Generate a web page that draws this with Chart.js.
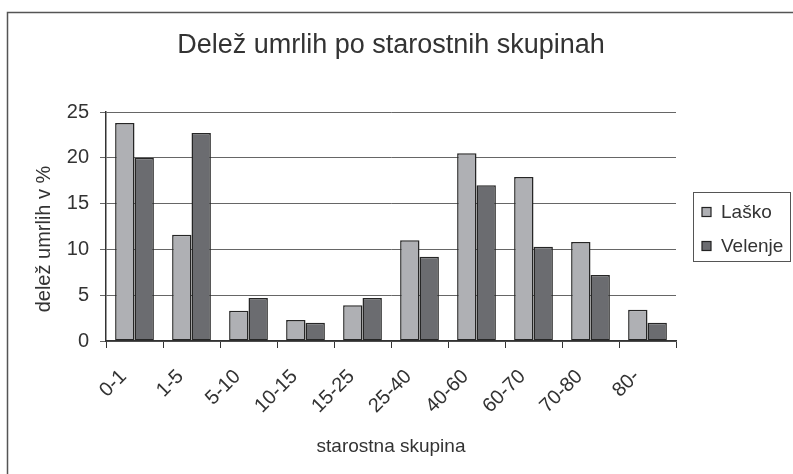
<!DOCTYPE html>
<html>
<head>
<meta charset="utf-8">
<script src="https://cdn.jsdelivr.net/npm/chart.js@4.4.0/dist/chart.umd.min.js"></script>
<style>
  html, body { margin: 0; padding: 0; background: #fff; }
</style>
</head>
<body>
<canvas id="chart" width="793" height="474"></canvas>
<script>
/* Delež umrlih po starostnih skupinah — Laško vs Velenje */

const categories = ['0-1', '1-5', '5-10', '10-15', '15-25', '25-40', '40-60', '60-70', '70-80', '80-'];
const lasko = [23.8, 11.6, 3.3, 2.3, 3.9, 11.0, 20.5, 17.9, 10.8, 3.4];
const velenje = [20.0, 22.7, 4.7, 2.0, 4.7, 9.2, 17.0, 10.3, 7.2, 2.0];
const yTicks = [0, 5, 10, 15, 20, 25];

const FONT = "'Liberation Sans', Arial, sans-serif";
const textColor = '#333';

// outer frame (only top and left edges are inside the picture)
const framePlugin = {
  id: 'frame',
  beforeDraw(chart) {
    const ctx = chart.ctx;
    ctx.save();
    ctx.fillStyle = '#fff';
    ctx.fillRect(0, 0, chart.width, chart.height);
    ctx.strokeStyle = '#555';
    ctx.lineWidth = 1.5;
    ctx.strokeRect(7.5, 12.5, chart.width + 50, chart.height + 50);
    ctx.restore();
  }
};

// chart title and y axis title
const textPlugin = {
  id: 'texts',
  afterDraw(chart) {
    const ctx = chart.ctx;
    const a = chart.chartArea;
    ctx.save();
    ctx.fillStyle = textColor;
    ctx.textAlign = 'center';
    ctx.textBaseline = 'middle';
    ctx.font = '27px ' + FONT;
    ctx.fillText('Delež umrlih po starostnih skupinah', (a.left + a.right) / 2, 46);
    ctx.font = '20px ' + FONT;
    ctx.translate(44, 239);
    ctx.rotate(-Math.PI / 2);
    ctx.fillText('delež umrlih v %', 0, 0);
    ctx.restore();
  }
};

const legendPlugin = {
  id: 'boxLegend',
  afterDraw(chart) {
    const ctx = chart.ctx;
    ctx.save();
    ctx.strokeStyle = '#555';
    ctx.lineWidth = 1;
    ctx.strokeRect(693.5, 192.5, 97, 69);
    ctx.font = '19px ' + FONT;
    ctx.textBaseline = 'middle';
    chart.data.datasets.forEach((ds, i) => {
      const cy = 212 + i * 34;
      ctx.fillStyle = ds.backgroundColor;
      ctx.fillRect(702, cy - 4.5, 9, 9);
      ctx.strokeStyle = '#222';
      ctx.lineWidth = 1.2;
      ctx.strokeRect(702, cy - 4.5, 9, 9);
      ctx.fillStyle = textColor;
      ctx.fillText(ds.label, 721, cy + 1);
    });
    ctx.restore();
  }
};

new Chart(document.getElementById('chart'), {
  type: 'bar',
  data: {
    labels: categories,
    datasets: [
      {
        label: 'Laško',
        data: lasko,
        backgroundColor: '#afb0b4',
        borderColor: '#262626',
        borderWidth: 1.5,
        borderSkipped: false,
        categoryPercentage: 0.68,
        barPercentage: 1
      },
      {
        label: 'Velenje',
        data: velenje,
        backgroundColor: '#6b6c70',
        borderColor: '#262626',
        borderWidth: 1.5,
        borderSkipped: false,
        categoryPercentage: 0.68,
        barPercentage: 1
      }
    ]
  },
  options: {
    responsive: false,
    animation: false,
    layout: { padding: { left: 0, right: 117, top: 112, bottom: 0 } },
    plugins: {
      legend: { display: false },
      title: { display: false },
      tooltip: { enabled: false }
    },
    scales: {
      x: {
        afterFit: (s) => { s.height = 133; },
        grid: {
          display: true,
          drawOnChartArea: false,
          drawTicks: true,
          tickLength: 7,
          color: '#333',
          offset: true
        },
        border: { display: true, color: '#333', width: 1.5 },
        ticks: {
          color: textColor,
          font: { family: FONT, size: 20 },
          minRotation: 45,
          maxRotation: 45,
          padding: 17,
          labelOffset: -11
        },
        title: {
          display: true,
          text: 'starostna skupina',
          color: textColor,
          font: { family: FONT, size: 19 },
          padding: { top: 0, bottom: 16 }
        }
      },
      y: {
        min: 0,
        max: 25,
        afterFit: (s) => { s.width = 106; },
        afterBuildTicks: (s) => { s.ticks = yTicks.map((v) => ({ value: v })); },
        grid: {
          color: '#666',
          lineWidth: 1,
          tickLength: 6
        },
        border: { display: true, color: '#333', width: 1.5 },
        ticks: {
          color: textColor,
          font: { family: FONT, size: 20 },
          padding: 11
        }
      }
    }
  },
  plugins: [framePlugin, textPlugin, legendPlugin]
});
</script>
</body>
</html>
